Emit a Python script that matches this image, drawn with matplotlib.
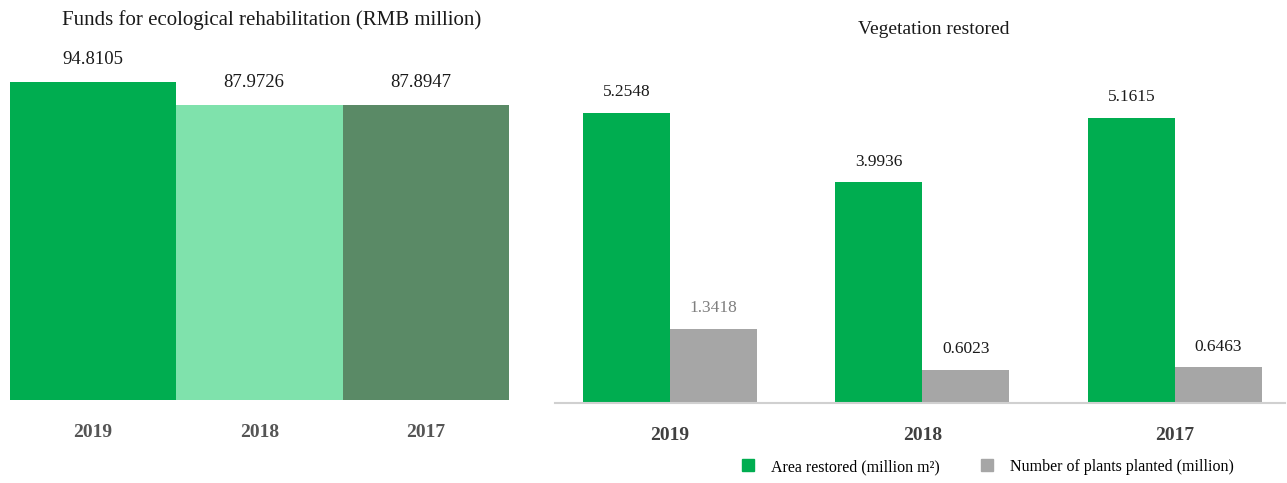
import matplotlib
matplotlib.use("Agg")
import matplotlib.pyplot as plt
import numpy as np
from matplotlib.lines import Line2D

# --- data ---
fund_years = ["2019", "2018", "2017"]
fund_values = [94.8105, 87.9726, 87.8947]
fund_colors = ["#00AD50", "#7FE2AC", "#5A8A66"]

veg_years = ["2019", "2018", "2017"]
area_restored = [5.2548, 3.9936, 5.1615]
plants_planted = [1.3418, 0.6023, 0.6463]

GREEN = "#00AD50"
GREY = "#A6A6A6"
plt.rcParams["font.family"] = ["Liberation Serif", "DejaVu Serif"]

W, H = 1287, 483
fig = plt.figure(figsize=(W / 100, H / 100), dpi=100)


def px_axes(l, t, r, b):
    return fig.add_axes([l / W, 1 - b / H, (r - l) / W, (b - t) / H])


# left panel: funds
ax1 = px_axes(10, 40, 509, 400)
x1 = np.arange(len(fund_years))
ax1.bar(x1, fund_values, width=1.0, color=fund_colors)
ax1.set_xlim(-0.5, 2.5)
ax1.set_ylim(0, 107.3)
for xi, v in zip(x1, fund_values):
    ax1.annotate(f"{v:.4f}", (xi, v), xytext=(-4 if xi else 0, 10),
                 textcoords="offset points", ha="center", va="bottom",
                 fontsize=13.5, color="#1a1a1a")
ax1.set_xticks(x1)
ax1.set_xticklabels(fund_years, fontsize=14, fontweight="bold", color="#555555")
ax1.tick_params(axis="x", length=0, pad=17)
ax1.set_yticks([])
for sp in ax1.spines.values():
    sp.set_visible(False)
fig.text(272 / W, 1 - 20 / H, "Funds for ecological rehabilitation (RMB million)",
         ha="center", va="center", fontsize=15, color="#1a1a1a")

# right panel: vegetation
ax2 = px_axes(555, 60, 1285, 403)
x2 = np.arange(len(veg_years))
bw = 0.3446
ax2.bar(x2 - bw / 2, area_restored, width=bw, color=GREEN)
ax2.bar(x2 + bw / 2, plants_planted, width=bw, color=GREY)
ax2.set_xlim(-0.455, 2.436)
ax2.set_ylim(0, 6.21)
for xi, v in zip(x2, area_restored):
    ax2.annotate(f"{v:.4f}", (xi - bw / 2, v), xytext=(0, 9),
                 textcoords="offset points", ha="center", va="bottom",
                 fontsize=12.5, color="#1a1a1a")
for i, (xi, v) in enumerate(zip(x2, plants_planted)):
    ax2.annotate(f"{v:.4f}", (xi + bw / 2, v), xytext=(0, 9),
                 textcoords="offset points", ha="center", va="bottom",
                 fontsize=12.5, color="#7f7f7f" if i == 0 else "#1a1a1a")
ax2.set_xticks(x2)
ax2.set_xticklabels(veg_years, fontsize=14, fontweight="bold", color="#404040")
ax2.tick_params(axis="x", length=0, pad=17)
ax2.set_yticks([])
for sp in ("top", "left", "right"):
    ax2.spines[sp].set_visible(False)
ax2.spines["bottom"].set_color("#d0d0d0")
ax2.spines["bottom"].set_linewidth(1.5)
fig.text(934 / W, 1 - 30 / H, "Vegetation restored",
         ha="center", va="center", fontsize=14, color="#1a1a1a")

handles = [Line2D([], [], marker="s", linestyle="", markersize=8, color=GREEN),
           Line2D([], [], marker="s", linestyle="", markersize=8, color=GREY)]
fig.legend(handles, ["Area restored (million m²)", "Number of plants planted (million)"],
           loc="center", bbox_to_anchor=(983 / W, 1 - 467 / H), ncol=2,
           frameon=False, fontsize=11.5, handletextpad=0.4, columnspacing=2.0)

fig.savefig("out.png", dpi=100)
